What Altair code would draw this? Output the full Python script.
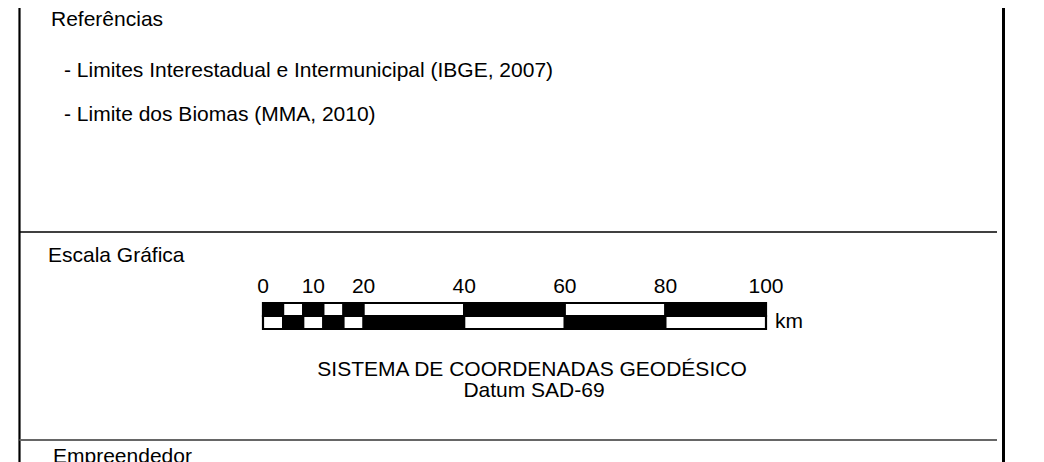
import altair as alt
import pandas as pd

# ---- data ----
section_titles = ["Referências", "Escala Gráfica", "Empreendedor"]
reference_lines = [
    "- Limites Interestadual e Intermunicipal (IBGE, 2007)",
    "- Limite dos Biomas (MMA, 2010)",
]
scale_ticks = [0, 10, 20, 40, 60, 80, 100]
segment_edges = [0, 4, 8, 12, 16, 20, 40, 60, 80, 100]
scale_unit = "km"
projection_lines = ["SISTEMA DE COORDENADAS GEODÉSICO", "Datum SAD-69"]

# ---- build tables ----
rows = []
for r, row in enumerate(["top", "bottom"]):
    for i in range(len(segment_edges) - 1):
        black = (i + r) % 2 == 0
        rows.append({
            "start": segment_edges[i],
            "end": segment_edges[i + 1],
            "row": row,
            "fill": "#000000" if black else "#ffffff",
        })
cells = pd.DataFrame(rows)
ticks = pd.DataFrame({"km": scale_ticks, "label": [str(t) for t in scale_ticks]})

FONT = "Liberation Sans"
FS = 21
W, H = 1028, 454

xscale = alt.Scale(domain=[0, 100], range=[255, 758])
yscale = alt.Scale(domain=["top", "bottom"], range=[295, 321], paddingInner=0, paddingOuter=0)


def label(text, x, y, align="left", size=FS):
    return alt.Chart(pd.DataFrame({"t": [text]})).mark_text(
        font=FONT, fontSize=size, align=align, baseline="alphabetic", color="#000000"
    ).encode(text="t:N", x=alt.value(x), y=alt.value(y))


def rule(x, x2, y, y2, color="#000000", width=2):
    return alt.Chart(pd.DataFrame({"d": [0]})).mark_rule(
        color=color, strokeWidth=width
    ).encode(x=alt.value(x), x2=alt.value(x2), y=alt.value(y), y2=alt.value(y2))


frame = [
    rule(11.5, 11.5, -8, 470, width=2.2),
    rule(995.5, 995.5, -8, 470, width=3),
    rule(11.5, 989, 224, 224, width=1.5),
    rule(11.5, 989, 432, 432, color="#666666", width=2.2),
]

texts = [
    label(section_titles[0], 43, 18),
    label(reference_lines[0], 56, 69),
    label(reference_lines[1], 56, 113),
    label(section_titles[1], 40, 254),
    label(projection_lines[0], 524, 368, align="center"),
    label(projection_lines[1], 526, 389, align="center"),
    label(section_titles[2], 45, 455),
    label(scale_unit, 767, 320),
]

bar = alt.Chart(cells).mark_rect(stroke="#000000", strokeWidth=2.2).encode(
    x=alt.X("start:Q", scale=xscale, axis=None),
    x2="end:Q",
    y=alt.Y("row:N", scale=yscale, axis=None),
    fill=alt.Fill("fill:N", scale=None),
)

tick_labels = alt.Chart(ticks).mark_text(
    font=FONT, fontSize=FS, align="center", baseline="alphabetic", color="#000000"
).encode(
    x=alt.X("km:Q", scale=xscale, axis=None),
    y=alt.value(285),
    text="label:N",
)

chart = alt.layer(*frame, *texts, bar, tick_labels).properties(
    width=W, height=H, padding=0, background="white",
    autosize=alt.AutoSizeParams(type="none"),
).configure_view(stroke=None)

chart.save("out.html", embed_options={"renderer": "svg", "actions": False})
